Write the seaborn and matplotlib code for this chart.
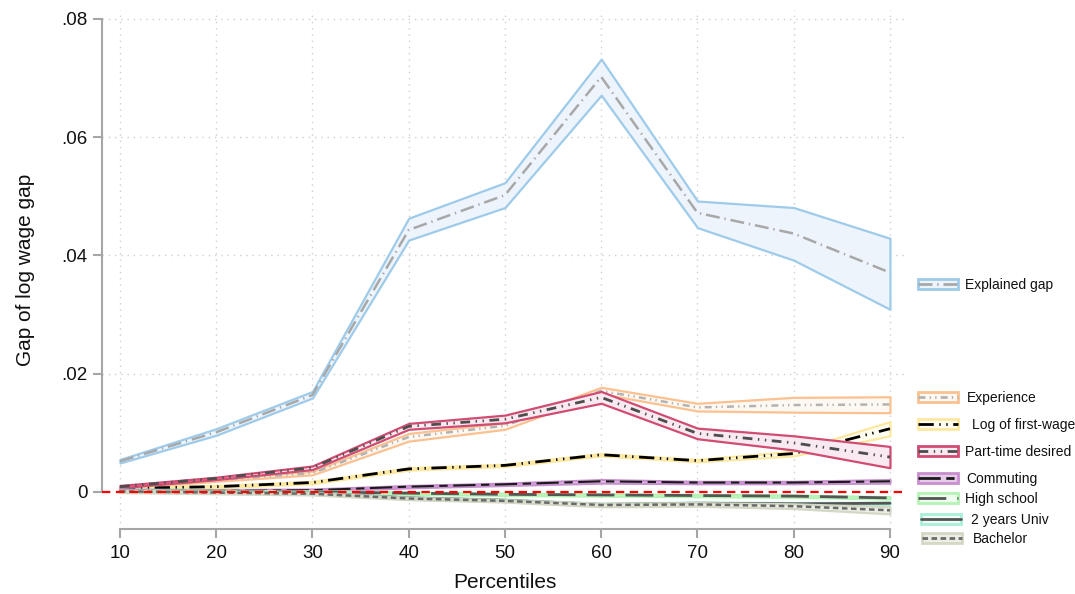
import numpy as np
import pandas as pd
import matplotlib
matplotlib.use("Agg")
import matplotlib.pyplot as plt
from matplotlib.patches import Patch
from matplotlib.lines import Line2D
import seaborn as sns

# ---- data: decomposition of the log wage gap by percentile ----
percentiles = [10, 20, 30, 40, 50, 60, 70, 80, 90]

explained = [0.0052, 0.0101, 0.0164, 0.0443, 0.0502, 0.0702, 0.0472, 0.0437, 0.0371]
explained_lo = [0.0049, 0.0096, 0.0159, 0.0426, 0.0481, 0.0671, 0.0447, 0.0392, 0.0309]
explained_hi = [0.0055, 0.0107, 0.0170, 0.0463, 0.0523, 0.0732, 0.0492, 0.0481, 0.0429]

experience = [0.0008, 0.0020, 0.0032, 0.0093, 0.0112, 0.0171, 0.0143, 0.0147, 0.0148]
experience_lo = [0.0006, 0.0018, 0.0029, 0.0086, 0.0106, 0.0166, 0.0137, 0.0135, 0.0134]
experience_hi = [0.0010, 0.0022, 0.0035, 0.0099, 0.0117, 0.0177, 0.0150, 0.0160, 0.0161]

first_wage = [0.0006, 0.0009, 0.0016, 0.0039, 0.0045, 0.0063, 0.0053, 0.0065, 0.0107]
first_wage_lo = [0.0004, 0.0007, 0.0014, 0.0037, 0.0043, 0.0061, 0.0051, 0.0061, 0.0095]
first_wage_hi = [0.0008, 0.0011, 0.0018, 0.0041, 0.0047, 0.0065, 0.0055, 0.0069, 0.0119]

part_time = [0.0009, 0.0023, 0.0041, 0.0111, 0.0123, 0.0160, 0.0099, 0.0083, 0.0059]
part_time_lo = [0.0007, 0.0021, 0.0038, 0.0106, 0.0117, 0.0150, 0.0090, 0.0071, 0.0041]
part_time_hi = [0.0011, 0.0025, 0.0044, 0.0116, 0.0130, 0.0170, 0.0108, 0.0095, 0.0077]

commuting = [0.0003, 0.0002, 0.0003, 0.0009, 0.0013, 0.0018, 0.0016, 0.0016, 0.0018]
commuting_lo = [0.0001, 0.0000, 0.0001, 0.0007, 0.0011, 0.0015, 0.0014, 0.0014, 0.0015]
commuting_hi = [0.0005, 0.0004, 0.0005, 0.0011, 0.0015, 0.0021, 0.0018, 0.0018, 0.0021]

high_school = [0.0002, 0.0001, 0.0000, -0.0002, -0.0004, -0.0005, -0.0006, -0.0007, -0.0010]
high_school_lo = [0.0000, -0.0001, -0.0002, -0.0004, -0.0006, -0.0007, -0.0008, -0.0009, -0.0012]
high_school_hi = [0.0004, 0.0003, 0.0002, 0.0000, -0.0002, -0.0003, -0.0004, -0.0005, -0.0008]

univ_2y = [0.0002, 0.0000, -0.0002, -0.0010, -0.0014, -0.0021, -0.0019, -0.0020, -0.0019]
univ_2y_lo = [0.0000, -0.0002, -0.0004, -0.0012, -0.0016, -0.0023, -0.0021, -0.0022, -0.0021]
univ_2y_hi = [0.0004, 0.0002, 0.0000, -0.0008, -0.0012, -0.0019, -0.0017, -0.0018, -0.0017]

bachelor = [0.0001, -0.0001, -0.0003, -0.0011, -0.0015, -0.0022, -0.0021, -0.0024, -0.0031]
bachelor_lo = [-0.0001, -0.0003, -0.0005, -0.0013, -0.0017, -0.0025, -0.0024, -0.0028, -0.0037]
bachelor_hi = [0.0003, 0.0001, -0.0001, -0.0009, -0.0013, -0.0019, -0.0018, -0.0020, -0.0025]

labels = ["Explained gap", "Experience", "Log of first-wage", "Part-time desired",
          "Commuting", "High school", "2 years Univ", "Bachelor"]

y_ticks = [0, 0.02, 0.04, 0.06, 0.08]
y_tick_labels = ["0", ".02", ".04", ".06", ".08"]

# ---- styling per series ----
series = [
    dict(name=labels[0], y=explained, lo=explained_lo, hi=explained_hi,
         edge="#9ecbea", fill="#edf4fb", line="#a8a8a8", ls=(0, (10, 3.5, 1, 3.5)), lw=1.8),
    dict(name=labels[1], y=experience, lo=experience_lo, hi=experience_hi,
         edge="#fbc190", fill="#fef8f3", line="#b3b3b3", ls=(0, (5, 3, 1, 3, 1, 3)), lw=1.8),
    dict(name=labels[2], y=first_wage, lo=first_wage_lo, hi=first_wage_hi,
         edge="#fde8a0", fill="#fffdf0", line="#000000", ls=(0, (11, 4, 1, 4, 1, 4)), lw=2.0),
    dict(name=labels[3], y=part_time, lo=part_time_lo, hi=part_time_hi,
         edge="#d04c72", fill="#f8eaf0", line="#4d4d4d", ls=(0, (7, 4, 1, 4, 1, 4)), lw=2.0),
    dict(name=labels[4], y=commuting, lo=commuting_lo, hi=commuting_hi,
         edge="#c78fcd", fill="#e6cbe9", line="#1a1a1a", ls=(0, (16, 4, 6, 4)), lw=1.5),
    dict(name=labels[5], y=high_school, lo=high_school_lo, hi=high_school_hi,
         edge="#b5f3b5", fill="#eefdee", line="#555555", ls=(0, (20, 8)), lw=2.0),
    dict(name=labels[6], y=univ_2y, lo=univ_2y_lo, hi=univ_2y_hi,
         edge="#a9efd9", fill="#eefdf7", line="#555555", ls="-", lw=2.0),
    dict(name=labels[7], y=bachelor, lo=bachelor_lo, hi=bachelor_hi,
         edge="#d3d8c5", fill="#eceee6", line="#6a6a6a", ls=(0, (4, 2.5)), lw=1.8),
]

sns.set_theme(style="white")
plt.rcParams["font.family"] = ["Liberation Sans", "DejaVu Sans"]
plt.rcParams["lines.scale_dashes"] = False

fig = plt.figure(figsize=(10.75, 5.94), dpi=100)
ax = fig.add_axes([102 / 1075, 1 - 529 / 594, 805 / 1075, 519 / 594])

for i, s in enumerate(series):
    df = pd.DataFrame({"pct": percentiles, "val": s["y"]})
    ax.fill_between(percentiles, s["lo"], s["hi"], facecolor=s["fill"],
                    edgecolor=s["edge"], linewidth=1.6, zorder=2 + 2 * i)
    sns.lineplot(data=df, x="pct", y="val", ax=ax, color=s["line"],
                 linestyle=s["ls"], linewidth=s["lw"], zorder=3 + 2 * i)

# zero reference line
ax.axhline(0, color="#ff0000", linestyle=(0, (6, 4)), linewidth=1.6, zorder=30)

# limits and axes in the classic offset style
ax.set_xlim(8.13, 91.77)
ax.set_ylim(-0.00626, 0.0815)
ax.set_xticks(percentiles)
ax.set_xticklabels([str(p) for p in percentiles])
ax.set_yticks(y_ticks)
ax.set_yticklabels(y_tick_labels)

for side in ["top", "right"]:
    ax.spines[side].set_visible(False)
ax.spines["left"].set_bounds(0, 0.08)
ax.spines["bottom"].set_bounds(10, 90)
for side in ["left", "bottom"]:
    ax.spines[side].set_color("#a6a6a6")
    ax.spines[side].set_linewidth(1.5)

ax.tick_params(axis="both", which="major", direction="out", length=6.5,
               width=1.5, color="#a6a6a6", labelsize=13.5, labelcolor="#111111",
               left=True, bottom=True)
ax.tick_params(axis="x", pad=5)
ax.tick_params(axis="y", pad=4)

# dotted grid
for xv in percentiles:
    ax.axvline(xv, color="#cfcfcf", linestyle=(0, (1, 3.5)), linewidth=1.0, zorder=1)
for yv in y_ticks[1:]:
    ax.axhline(yv, color="#cfcfcf", linestyle=(0, (1, 3.5)), linewidth=1.0, zorder=1)

ax.set_xlabel("Percentiles", fontsize=15, color="#111111", labelpad=8)
ax.set_ylabel("Gap of log wage gap", fontsize=15, color="#111111", labelpad=19)

# legend entries placed individually beside the panel
legend_rows = [285, 398, 425, 452, 479, 499, 520, 539]
legend_cols = [918, 918, 918, 918, 918, 918, 921, 922]
text_shift = [0, 2, 7, 0, 1, 0, 3, 4]
for s, row, col, shift in zip(series, legend_rows, legend_cols, text_shift):
    patch = Patch(facecolor=s["fill"], edgecolor=s["edge"], linewidth=2.0)
    line = Line2D([0], [0], color=s["line"], linestyle=s["ls"], linewidth=2.0)
    leg = fig.legend([(patch, line)], [s["name"]], loc="center left",
                     bbox_to_anchor=(col / 1075, 1 - row / 594), frameon=False,
                     fontsize=10, handlelength=2.9, handleheight=0.8,
                     handletextpad=0.5 + shift / 14.0, borderpad=0, borderaxespad=0)
    for t in leg.get_texts():
        t.set_color("#111111")

fig.savefig("out.png", dpi=100, facecolor="white")
